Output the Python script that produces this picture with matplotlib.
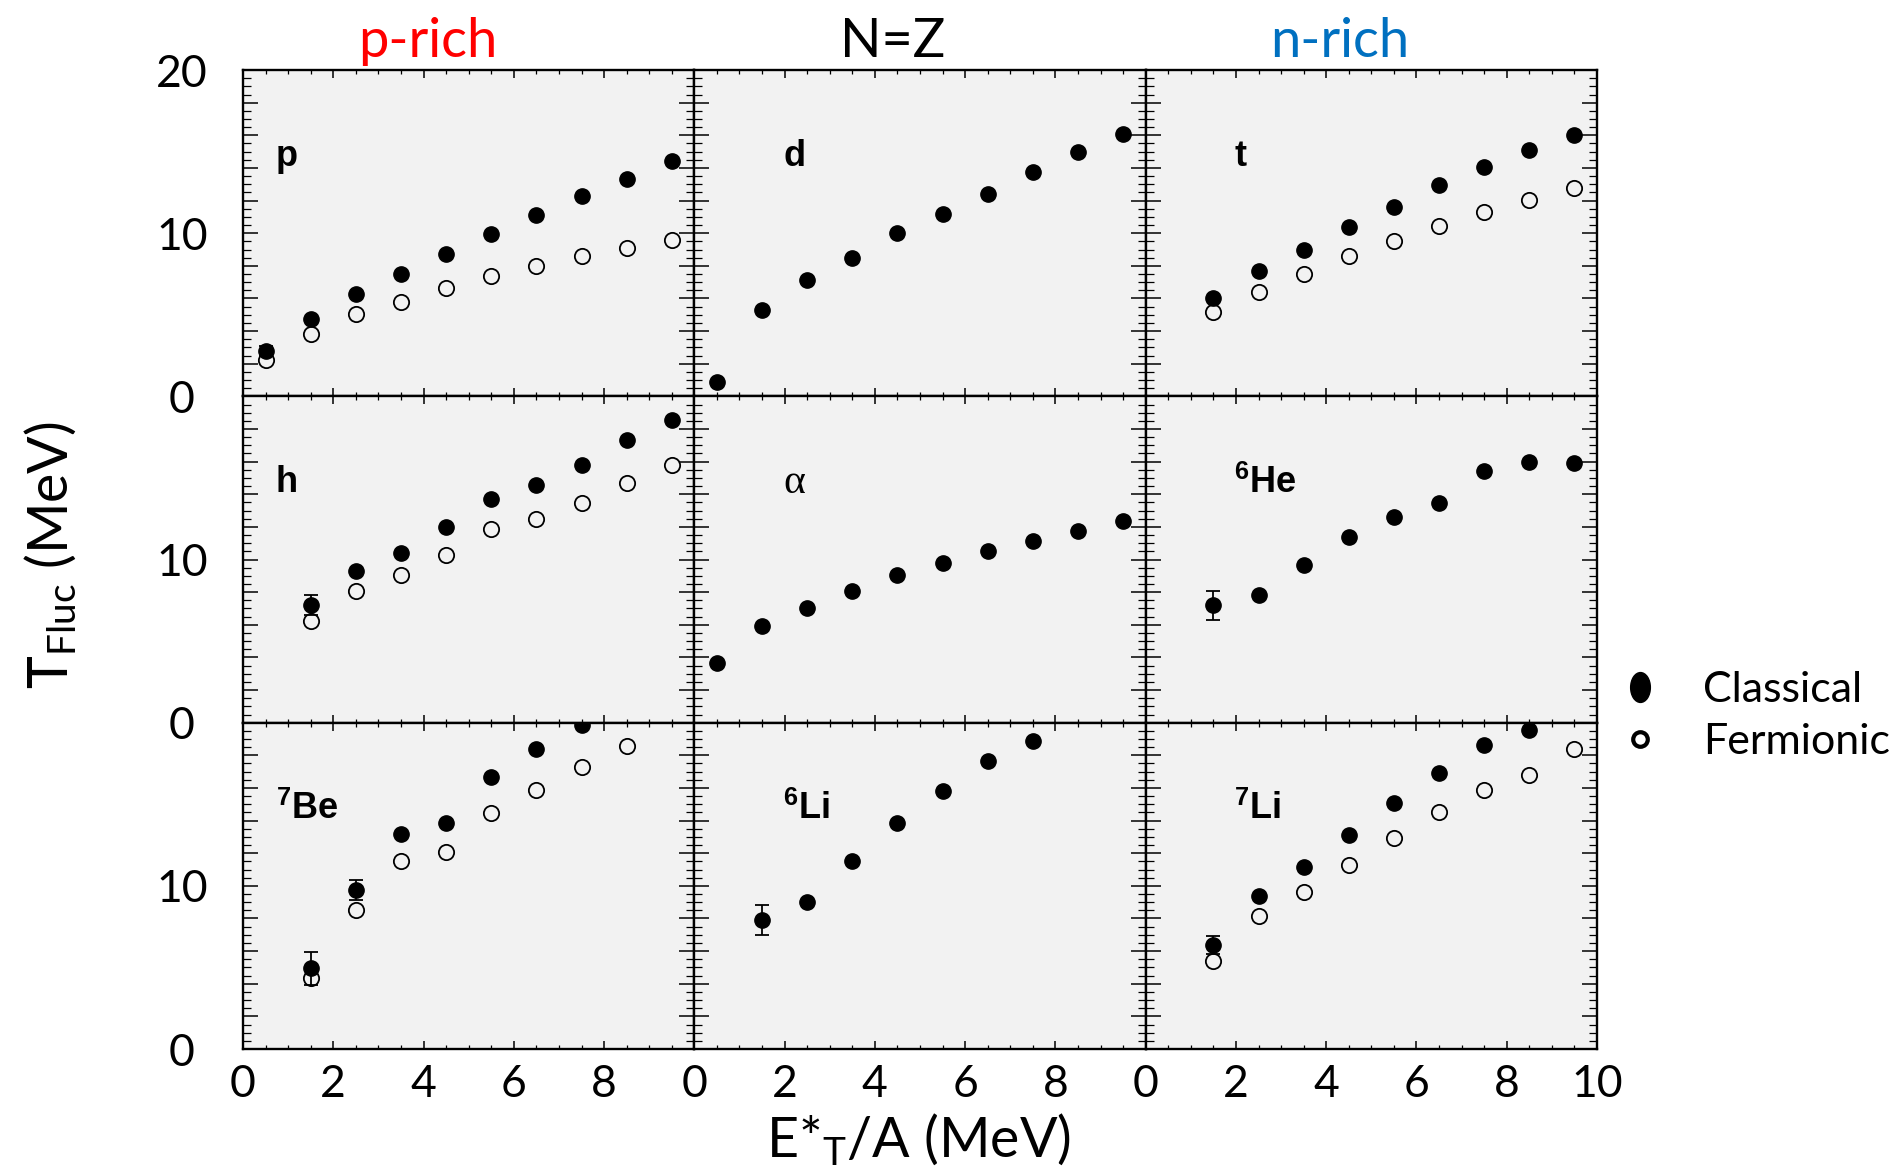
import matplotlib
matplotlib.use('Agg')
import matplotlib.pyplot as plt
from matplotlib.ticker import MultipleLocator, FuncFormatter
from matplotlib.lines import Line2D
from matplotlib.path import Path
from matplotlib.transforms import Affine2D


# mathtext fonts: rm -> bold labels (isotope superscripts), sf -> axis label subscripts
plt.rcParams['mathtext.fontset'] = 'custom'
plt.rcParams['mathtext.rm'] = 'Liberation Sans:bold'
plt.rcParams['mathtext.sf'] = 'Lato'
plt.rcParams['mathtext.it'] = 'Lato:italic'


# x values (E*_T/A, MeV)
e_10 = [0.5, 1.5, 2.5, 3.5, 4.5, 5.5, 6.5, 7.5, 8.5, 9.5]
e_9 = [1.5, 2.5, 3.5, 4.5, 5.5, 6.5, 7.5, 8.5, 9.5]
e_8 = [1.5, 2.5, 3.5, 4.5, 5.5, 6.5, 7.5, 8.5]
e_7 = [1.5, 2.5, 3.5, 4.5, 5.5, 6.5, 7.5]

# T_Fluc (MeV), classical (filled) / fermionic (open)
p_cls = [2.8, 4.75, 6.3, 7.5, 8.75, 9.97, 11.1, 12.3, 13.3, 14.4]
p_fer = [2.25, 3.85, 5.05, 5.8, 6.67, 7.4, 8.0, 8.62, 9.1, 9.6]
p_err = [0.3, 0, 0, 0, 0, 0, 0, 0, 0, 0]

d_cls = [0.85, 5.3, 7.15, 8.5, 10.0, 11.2, 12.4, 13.75, 15.0, 16.1]

t_cls = [6.05, 7.7, 9.0, 10.35, 11.6, 12.95, 14.05, 15.1, 16.0]
t_fer = [5.2, 6.4, 7.5, 8.6, 9.5, 10.45, 11.3, 12.05, 12.8]

h_cls = [7.2, 9.3, 10.4, 12.0, 13.7, 14.55, 15.8, 17.35, 18.55]
h_fer = [6.25, 8.05, 9.05, 10.25, 11.85, 12.5, 13.45, 14.7, 15.8]
h_err = [0.6, 0, 0, 0, 0, 0, 0, 0, 0]

a_cls = [3.65, 5.95, 7.05, 8.05, 9.05, 9.8, 10.5, 11.15, 11.75, 12.35]

he6_cls = [7.2, 7.85, 9.65, 11.4, 12.6, 13.45, 15.4, 16.0, 15.9]
he6_err = [0.9, 0, 0, 0, 0, 0, 0, 0, 0]

be7_cls = [4.95, 9.75, 13.2, 13.85, 16.7, 18.4, 19.85]
be7_fer = [4.35, 8.5, 11.5, 12.1, 14.45, 15.9, 17.3, 18.55]
be7_err = [1.0, 0.6, 0, 0, 0, 0, 0]

li6_cls = [7.9, 9.0, 11.5, 13.85, 15.8, 17.65, 18.9]
li6_err = [0.9, 0, 0, 0, 0, 0, 0]

li7_cls = [6.35, 9.4, 11.15, 13.1, 15.05, 16.9, 18.65, 19.55]
li7_fer = [5.4, 8.15, 9.65, 11.25, 12.95, 14.55, 15.9, 16.8, 18.4]
li7_err = [0.55, 0, 0, 0, 0, 0, 0, 0]

# panel table, row by row
panels = [
    [(r'p', e_10, p_cls, p_err, e_10, p_fer),
     (r'd', e_10, d_cls, None, None, None),
     (r't', e_9, t_cls, None, e_9, t_fer)],
    [(r'h', e_9, h_cls, h_err, e_9, h_fer),
     (r'α', e_10, a_cls, None, None, None),
     (r'$^{6}$He', e_9, he6_cls, he6_err, None, None)],
    [(r'$^{7}$Be', e_7, be7_cls, be7_err, e_8, be7_fer),
     (r'$^{6}$Li', e_7, li6_cls, li6_err, None, None),
     (r'$^{7}$Li', e_8, li7_cls, li7_err, e_9, li7_fer)],
]
label_x = [0.72, 1.97, 1.96]

col_titles = ['p-rich', 'N=Z', 'n-rich']
col_colors = ['#ff0000', 'black', '#0070c0']
col_title_x = [0.2249, 0.4693, 0.7041]

xtick_shown = [[0, 2, 4, 6, 8], [0, 2, 4, 6, 8], [0, 2, 4, 6, 8, 10]]
ytick_shown = [[0, 10, 20], [0, 10], [0, 10]]

tick_font = ['Lato', 'DejaVu Sans']
text_font = ['Lato', 'DejaVu Sans']


fig, axes = plt.subplots(3, 3, figsize=(19.03, 11.73), dpi=100)
fig.subplots_adjust(left=0.1277, right=0.8392, top=0.9403, bottom=0.1057,
                    wspace=0, hspace=0)

for r in range(3):
    for c in range(3):
        ax = axes[r, c]
        name, xc, yc, err, xf, yf = panels[r][c]
        ax.set_facecolor('#f2f2f2')
        ax.set_xlim(0, 10)
        ax.set_ylim(0, 20)

        if yf is not None:
            ax.plot(xf, yf, 'o', ms=11, mfc='none', mec='black', mew=1.3, zorder=3)
        if err is not None:
            ax.errorbar(xc, yc, yerr=err, fmt='o', ms=11, color='black',
                        elinewidth=1.3, capsize=5, capthick=1.3, zorder=4)
        else:
            ax.plot(xc, yc, 'o', ms=11, color='black', zorder=4)

        if name == 'α':
            ax.text(label_x[c], 14.7, name, fontsize=30, family='Liberation Serif',
                    ha='left', va='center')
        else:
            ax.text(label_x[c], 14.7, name, fontsize=26, fontweight='bold',
                    family='Liberation Sans', ha='left', va='center')

        ax.xaxis.set_major_locator(MultipleLocator(2))
        ax.xaxis.set_minor_locator(MultipleLocator(0.5))
        ax.yaxis.set_major_locator(MultipleLocator(2))
        ax.yaxis.set_minor_locator(MultipleLocator(0.5))
        ax.tick_params(which='both', direction='in', top=True, right=True,
                       bottom=True, left=True, color='black')
        ax.tick_params(axis='x', which='major', length=6, width=1.1)
        ax.tick_params(axis='x', which='minor', length=3, width=0.9)
        ax.tick_params(axis='y', which='major', length=11, width=1.1)
        ax.tick_params(axis='y', which='minor', length=6, width=0.9)
        for sp in ax.spines.values():
            sp.set_linewidth(1.7)
            sp.set_color('black')

        if c == 0:
            shown = ytick_shown[r]
            ax.yaxis.set_major_formatter(
                FuncFormatter(lambda v, pos, s=shown: str(int(round(v))) if round(v) in s and abs(v - round(v)) < 1e-6 else ''))
            ax.tick_params(axis='y', labelsize=32, pad=44)
            for lab in ax.get_yticklabels():
                lab.set_family(tick_font)
                lab.set_ha('center')
        else:
            ax.tick_params(axis='y', labelleft=False)

        if r == 2:
            shown = xtick_shown[c]
            ax.xaxis.set_major_formatter(
                FuncFormatter(lambda v, pos, s=shown: str(int(round(v))) if round(v) in s and abs(v - round(v)) < 1e-6 else ''))
            ax.tick_params(axis='x', labelsize=32, pad=11)
            for lab in ax.get_xticklabels():
                lab.set_family(tick_font)
        else:
            ax.tick_params(axis='x', labelbottom=False)

# column titles
for c in range(3):
    fig.text(col_title_x[c], 0.9514, col_titles[c], color=col_colors[c],
             fontsize=39, family=text_font, ha='center', va='baseline')

# axis labels
fig.text(0.0268, 0.527, r'T$_{\mathsf{Fluc}}$ (MeV)', rotation=90, fontsize=40,
         family=text_font, ha='center', va='center')
fig.text(0.4824, 0.028, r'E*$_{\mathsf{T}}$/A (MeV)', fontsize=40,
         family=text_font, ha='center', va='center')

# legend
ellipse = Path.unit_circle().transformed(Affine2D().scale(0.66, 1.0))
handles = [
    Line2D([], [], ls='none', marker=ellipse, ms=21.5, color='black'),
    Line2D([], [], ls='none', marker='o', ms=10.5, mfc='none', mec='black', mew=3),
]
fig.legend(handles=handles, labels=['Classical', 'Fermionic'],
           loc='center left', bbox_to_anchor=(0.8505, 0.3895),
           frameon=False, prop={'family': text_font, 'size': 31},
           handlelength=1.0, handletextpad=0.97, labelspacing=0.33,
           borderpad=0, borderaxespad=0)

fig.savefig('out.png', dpi=100, facecolor='white')
